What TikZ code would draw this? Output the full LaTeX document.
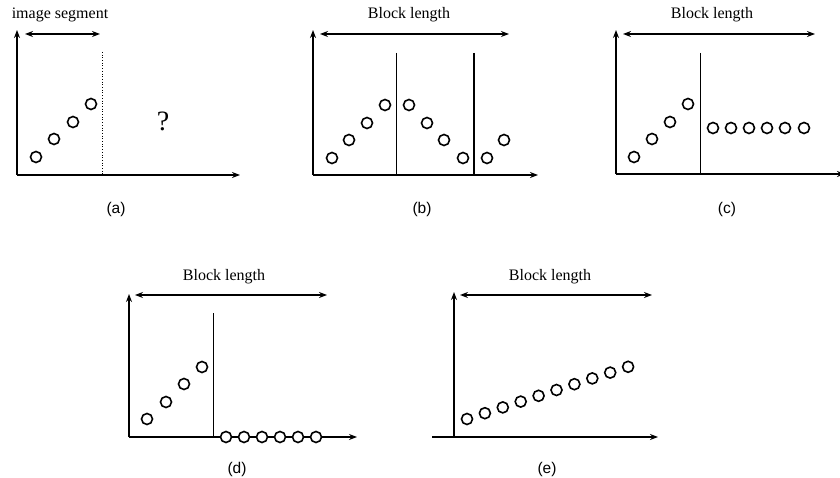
\documentclass[tikz,border=0pt]{standalone}
\usepackage{fontspec}
\setmainfont{Liberation Serif}
\newfontfamily\capfont{Liberation Sans}
\usetikzlibrary{arrows.meta}

\tikzset{
  axis/.style={line width=1.6pt,-{Stealth[length=8pt,width=6pt]}},
  span/.style={line width=1.4pt,{Stealth[length=8pt,width=6pt]}-{Stealth[length=8pt,width=6pt]}},
  sample/.style={line width=1.6pt,fill=white},
  heading/.style={font=\fontsize{16}{19}\selectfont},
  caption/.style={font=\capfont\fontsize{15.5}{18}\selectfont},
}

\begin{document}
\begin{tikzpicture}[x=1pt,y=-1pt]
\useasboundingbox (0,0) rectangle (840,478);
% (a) image segment
\begin{scope}
\draw[axis] (17,175) -- (17,30);
\draw[axis] (17,175) -- (240,175);
\draw[span] (25,34) -- (100,34);
\node[heading] (segA) at (60,15) {image segment};
\draw[dotted,line width=0.7pt] (102,52) -- (102,175);
\draw[sample] (36,157) circle (5.5pt);
\draw[sample] (54,139) circle (5.5pt);
\draw[sample] (73,122) circle (5.5pt);
\draw[sample] (91,104) circle (5.5pt);
\node[font=\fontsize{28}{30}\selectfont] (qA) at (163,121) {?};
\node[caption] (capA) at (116,209) {(a)};
\end{scope}
% (b) mirrored
\begin{scope}
\draw[axis] (313,175) -- (313,30);
\draw[axis] (313,175) -- (538,175);
\draw[span] (320,34) -- (509,34);
\node[heading] (lenB) at (409,15) {Block length};
\draw[line width=0.8pt] (396,53) -- (396,175);
\draw[line width=1.4pt] (474,53) -- (474,175);
\draw[sample] (332,158) circle (5.5pt);
\draw[sample] (349,140) circle (5.5pt);
\draw[sample] (367,123) circle (5.5pt);
\draw[sample] (385,105) circle (5.5pt);
\draw[sample] (409,105) circle (5.5pt);
\draw[sample] (427,123) circle (5.5pt);
\draw[sample] (444,140) circle (5.5pt);
\draw[sample] (463,158) circle (5.5pt);
\draw[sample] (487,158) circle (5.5pt);
\draw[sample] (504,140) circle (5.5pt);
\node[caption] (capB) at (422,209) {(b)};
\end{scope}
% (c) last value repeated
\begin{scope}
\draw[axis] (616,174) -- (616,30);
\draw[axis] (616,174) -- (845,174);
\draw[span] (623,34) -- (815,34);
\node[heading] (lenC) at (712,15) {Block length};
\draw[line width=0.8pt] (700,53) -- (700,174);
\draw[sample] (634,157) circle (5.5pt);
\draw[sample] (652,139) circle (5.5pt);
\draw[sample] (670,122) circle (5.5pt);
\draw[sample] (688,104) circle (5.5pt);
\foreach \px in {713,731,749,767,785,804}
  \draw[sample] (\px,128) circle (5.5pt);
\node[caption] (capC) at (727,209) {(c)};
\end{scope}
% (d) zero padding
\begin{scope}
\draw[axis] (129,437) -- (129,294);
\draw[axis] (129,437) -- (357,437);
\draw[span] (135,295) -- (327,295);
\node[heading] (lenD) at (224,277) {Block length};
\draw[line width=0.8pt] (213,313) -- (213,437);
\draw[sample] (147,419) circle (5.5pt);
\draw[sample] (166,402) circle (5.5pt);
\draw[sample] (184,384) circle (5.5pt);
\draw[sample] (202,367) circle (5.5pt);
\foreach \px in {226,244,262,280,298,316}
  \draw[sample] (\px,437) circle (5.5pt);
\node[caption] (capD) at (237,469) {(d)};
\end{scope}
% (e) whole block
\begin{scope}
\draw[axis] (454,437) -- (454,292);
\draw[axis] (432,437) -- (658,437);
\draw[span] (460,295) -- (652,295);
\node[heading] (lenE) at (550,277) {Block length};
\foreach \k in {0,...,9}
  \draw[sample] ({467+17.9*\k},{419-5.8*\k}) circle (5.5pt);
\node[caption] (capE) at (547,469) {(e)};
\end{scope}
\end{tikzpicture}
\end{document}
